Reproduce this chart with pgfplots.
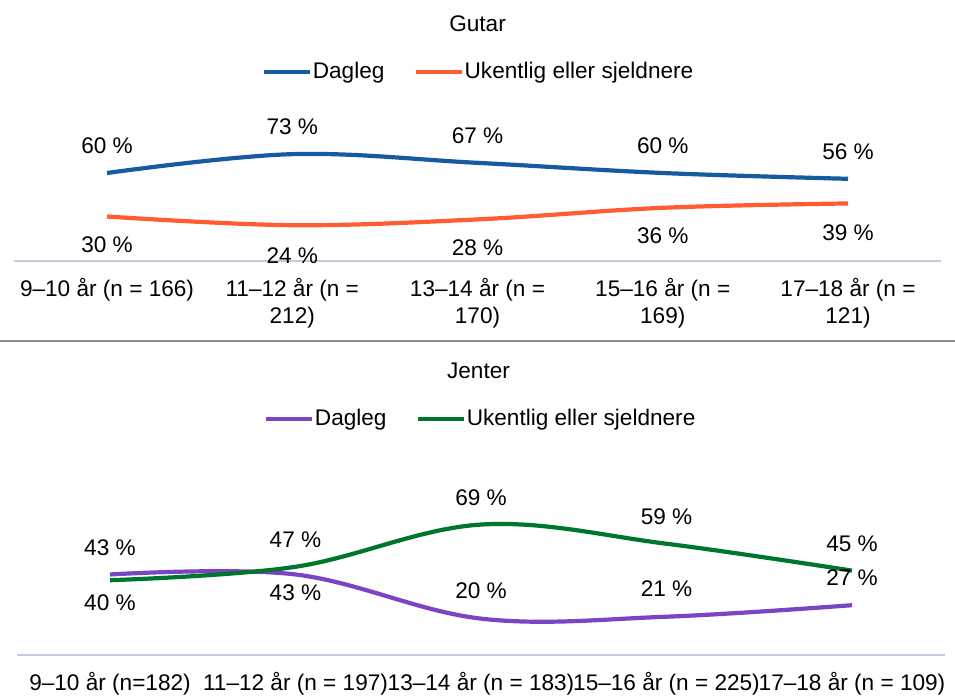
\documentclass[border=0pt]{standalone}
\usepackage{pgfplots}
\usepackage{pgfplotstable}
\pgfplotsset{compat=1.18}
\usepackage{fontspec}
\setmainfont{Liberation Sans}
\definecolor{cblue}{RGB}{22,90,160}
\definecolor{corange}{RGB}{255,92,48}
\definecolor{cpurple}{RGB}{122,68,194}
\definecolor{cgreen}{RGB}{0,118,44}
\definecolor{axgray}{RGB}{191,205,222}
\definecolor{sepgray}{RGB}{140,140,140}

\pgfplotstableread{
x y off
0 60 13.6
1 73 13.6
2 67 13.5
3 60 13.6
4 56 13.5
}\gutdag
\pgfplotstableread{
x y off
0 30 -14.3
1 24 -15
2 28 -14
3 36 -14.15
4 39 -14.5
}\gutuke
\pgfplotstableread{
x y off
0 43 13.5
1 43 -9
2 20 14
3 21 14
4 27 14
}\jendag
\pgfplotstableread{
x y off
0 40 -11
1 47 13.75
2 69 13.5
3 59 13.5
4 45 13.5
}\jenuke

\pgfplotsset{
  panel/.style={
    scale only axis,
    clip=false,
    xmin=-0.5, xmax=4.5,
    axis y line=none,
    axis x line*=bottom,
    x axis line style={axgray, line width=1bp, -},
    xtick={0,1,2,3,4},
    major tick length=0pt,
    xtick style={draw=none},
    xticklabel style={align=center, anchor=north, yshift=-5.0bp, text=black},
    /pgf/number format/assume math mode=true,
    legend columns=2,
    legend cell align=left,
    legend style={draw=none, fill=none, anchor=center,
      nodes={inner sep=0.5bp, text=black},
      /tikz/every even column/.append style={column sep=14bp}},
    legend image code/.code={\draw[#1, line width=2.1bp] (-0.5bp,0bp) -- (22.5bp,0bp);},
    title style={anchor=center},
  },
  lbl/.style={
    line width=2.1bp, smooth, tension=0.6,
    nodes near coords={\pgfmathprintnumber{\pgfplotspointmeta}~\%},
    visualization depends on={\thisrow{off} \as \myoff},
    every node near coord/.append style={anchor=center, yshift=\myoff bp, text=black, inner sep=0pt},
  },
}

\begin{document}
\begin{tikzpicture}[x=1bp, y=1bp, font=\fontsize{11.3bp}{13.5bp}\selectfont]
\path[use as bounding box] (0,0) rectangle (477.5,-348);
\draw[sepgray, line width=1bp] (0,-170.25) -- (477.5,-170.25);

\begin{axis}[panel,
  at={(7.2bp,-130.5bp)}, anchor=south west,
  width=463.1bp, height=72.5bp,
  ymin=-0.7, ymax=99.3,
  xticklabels={{9–10 år (n = 166)}, {11–12 år (n =\\212)}, {13–14 år (n =\\170)}, {15–16 år (n =\\169)}, {17–18 år (n =\\121)}},
  title={Gutar},
  title style={at={(0.5,1.552)}},
  legend style={at={(0.5005,1.3034)}},
]
\addplot[cblue, lbl] table[x=x, y=y] {\gutdag};
\addlegendentry{Dagleg}
\addplot[corange, lbl] table[x=x, y=y] {\gutuke};
\addlegendentry{Ukentlig eller sjeldnere}
\end{axis}

\begin{axis}[panel,
  at={(8.625bp,-327.54bp)}, anchor=south west,
  width=463.75bp, height=96bp,
  ymin=1, ymax=101,
  xticklabels={{9–10 år (n=182)}, {11–12 år (n = 197)}, {13–14 år (n = 183)}, {15–16 år (n = 225)}, {17–18 år (n = 109)}},
  title={Jenter},
  title style={at={(0.4973,1.4165)}},
  legend style={at={(0.499,1.2296)}},
]
\addplot[cpurple, lbl] table[x=x, y=y] {\jendag};
\addlegendentry{Dagleg}
\addplot[cgreen, lbl] table[x=x, y=y] {\jenuke};
\addlegendentry{Ukentlig eller sjeldnere}
\end{axis}
\end{tikzpicture}
\end{document}
